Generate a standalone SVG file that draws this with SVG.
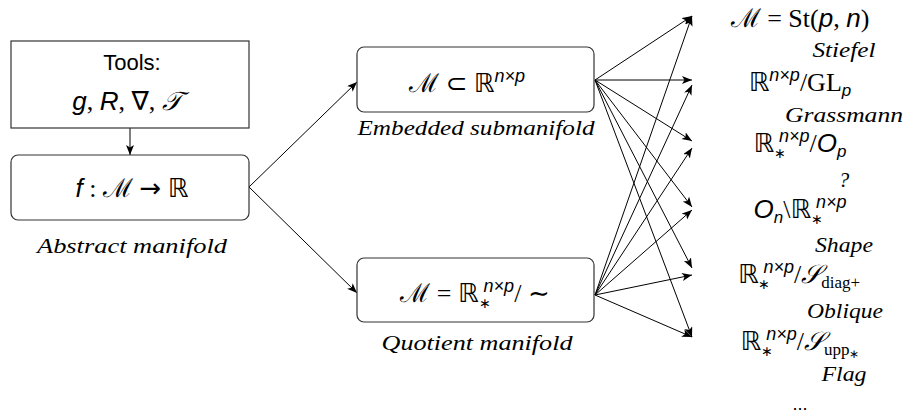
<svg xmlns="http://www.w3.org/2000/svg" width="906" height="417" viewBox="0 0 906 417">
<defs>
<marker id="ah" markerUnits="userSpaceOnUse" markerWidth="12" markerHeight="10" refX="10" refY="4" orient="auto">
<path d="M0,0 L10,4 L0,8 L2.5,4 z" fill="#000"/>
</marker>
<style>
.box{fill:#fff;stroke:#333;stroke-width:1.2}
.c line{stroke:#000;stroke-width:1;marker-end:url(#ah)}
.t{font-family:"Liberation Sans",sans-serif;font-size:22px;fill:#000}
.m{font-family:"Liberation Serif",serif;font-size:26px;fill:#000}
.mv{font-family:"Liberation Sans","DejaVu Sans",sans-serif;font-style:italic}
.mc{font-family:"DejaVu Sans",sans-serif}
.mm{font-family:"DejaVu Serif",serif}
.it{font-family:"Liberation Serif",serif;font-style:italic;font-size:21px;fill:#000}
.sup{font-size:18px}
.sub{font-size:17px}
.ast{font-family:"Liberation Sans",sans-serif;font-size:14px}
</style>
</defs>
<g class="c" id="connectors">
<line x1="130" y1="128" x2="130" y2="155"/>
<line x1="249" y1="187" x2="357" y2="82"/>
<line x1="249" y1="187" x2="357" y2="293"/>
<line x1="595" y1="80" x2="692" y2="16"/>
<line x1="595" y1="80" x2="692" y2="80"/>
<line x1="595" y1="80" x2="692" y2="141"/>
<line x1="595" y1="80" x2="692" y2="207"/>
<line x1="595" y1="80" x2="692" y2="268"/>
<line x1="595" y1="80" x2="692" y2="337"/>
<line x1="595" y1="295" x2="692" y2="16"/>
<line x1="595" y1="295" x2="692" y2="85"/>
<line x1="595" y1="295" x2="692" y2="148"/>
<line x1="595" y1="295" x2="692" y2="210"/>
<line x1="595" y1="295" x2="692" y2="275"/>
<line x1="595" y1="295" x2="692" y2="337"/>
</g>
<g id="tools">
<rect class="box" x="11" y="41" width="238" height="87"/>
<text class="t" x="132" y="70" text-anchor="middle">Tools:</text>
<text class="m" x="127" y="110" text-anchor="middle"><tspan class="mv">g</tspan>, <tspan class="mv">R</tspan>, <tspan class="mc">∇</tspan>, <tspan class="mv">𝒯</tspan></text>
</g>
<g id="abstract">
<rect class="box" x="11" y="155" width="238" height="65" rx="7"/>
<text class="m" x="132" y="197" text-anchor="middle"><tspan class="mv">f</tspan> : <tspan class="mm">ℳ</tspan> <tspan class="mc">→</tspan> <tspan class="mc">ℝ</tspan></text>
<text class="it" x="132" y="253" text-anchor="middle" textLength="190" lengthAdjust="spacingAndGlyphs">Abstract manifold</text>
</g>
<g id="embedded">
<rect class="box" x="357" y="47" width="237" height="65" rx="7"/>
<text class="m" x="467" y="92" text-anchor="middle"><tspan class="mm">ℳ</tspan> <tspan class="mc">⊂</tspan> <tspan class="mc">ℝ</tspan><tspan class="mv sup" dy="-10">n×p</tspan></text>
<text class="it" x="476" y="135" text-anchor="middle" textLength="237" lengthAdjust="spacingAndGlyphs">Embedded submanifold</text>
</g>
<g id="quotient">
<rect class="box" x="357" y="258" width="237" height="64" rx="7"/>
<text class="m" x="475" y="302" text-anchor="middle"><tspan class="mm">ℳ</tspan> = <tspan class="mc">ℝ</tspan><tspan class="ast" dy="6">∗</tspan><tspan class="mv sup" dx="-7" dy="-16">n×p</tspan><tspan dy="10">/ </tspan><tspan class="mc">∼</tspan></text>
<text class="it" x="477" y="350" text-anchor="middle" textLength="191" lengthAdjust="spacingAndGlyphs">Quotient manifold</text>
</g>
<g id="stiefel">
<text class="m" x="800" y="27" text-anchor="middle"><tspan class="mm">ℳ</tspan> = St(<tspan class="mv">p</tspan>, <tspan class="mv">n</tspan>)</text>
<text class="it" x="844" y="57" text-anchor="middle" textLength="63" lengthAdjust="spacingAndGlyphs">Stiefel</text>
</g>
<g id="grassmann">
<text class="m" x="800" y="91" text-anchor="middle"><tspan class="mc">ℝ</tspan><tspan class="mv sup" dy="-10">n×p</tspan><tspan dy="10">/GL</tspan><tspan class="mv sub" dy="5">p</tspan></text>
<text class="it" x="844" y="122" text-anchor="middle" textLength="118" lengthAdjust="spacingAndGlyphs">Grassmann</text>
</g>
<g id="q1">
<text class="m" x="800" y="152" text-anchor="middle"><tspan class="mc">ℝ</tspan><tspan class="ast" dy="6">∗</tspan><tspan class="mv sup" dx="-7" dy="-16">n×p</tspan><tspan dy="10">/</tspan><tspan class="mv">O</tspan><tspan class="mv sub" dy="5">p</tspan></text>
<text class="it" x="844" y="187" text-anchor="middle">?</text>
</g>
<g id="shape">
<text class="m" x="800" y="218" text-anchor="middle"><tspan class="mv">O</tspan><tspan class="mv sub" dy="5">n</tspan><tspan dy="-5">\</tspan><tspan class="mc">ℝ</tspan><tspan class="ast" dy="6">∗</tspan><tspan class="mv sup" dx="-7" dy="-16">n×p</tspan></text>
<text class="it" x="844" y="252" text-anchor="middle" textLength="58" lengthAdjust="spacingAndGlyphs">Shape</text>
</g>
<g id="oblique">
<text class="m" x="799" y="283" text-anchor="middle"><tspan class="mc">ℝ</tspan><tspan class="ast" dy="6">∗</tspan><tspan class="mv sup" dx="-7" dy="-16">n×p</tspan><tspan dy="10">/</tspan><tspan class="mv">𝒮</tspan><tspan class="sub" dy="5">diag+</tspan></text>
<text class="it" x="845" y="318" text-anchor="middle" textLength="76" lengthAdjust="spacingAndGlyphs">Oblique</text>
</g>
<g id="flag">
<text class="m" x="800" y="350" text-anchor="middle"><tspan class="mc">ℝ</tspan><tspan class="ast" dy="6">∗</tspan><tspan class="mv sup" dx="-7" dy="-16">n×p</tspan><tspan dy="10">/</tspan><tspan class="mv">𝒮</tspan><tspan class="sub" dy="5">upp</tspan><tspan class="ast" style="font-size:12px" dy="3">∗</tspan></text>
<text class="it" x="844" y="381" text-anchor="middle" textLength="45" lengthAdjust="spacingAndGlyphs">Flag</text>
</g>
<g id="more">
<text class="t" x="800" y="410" text-anchor="middle" style="font-size:18px">...</text>
</g>
</svg>
